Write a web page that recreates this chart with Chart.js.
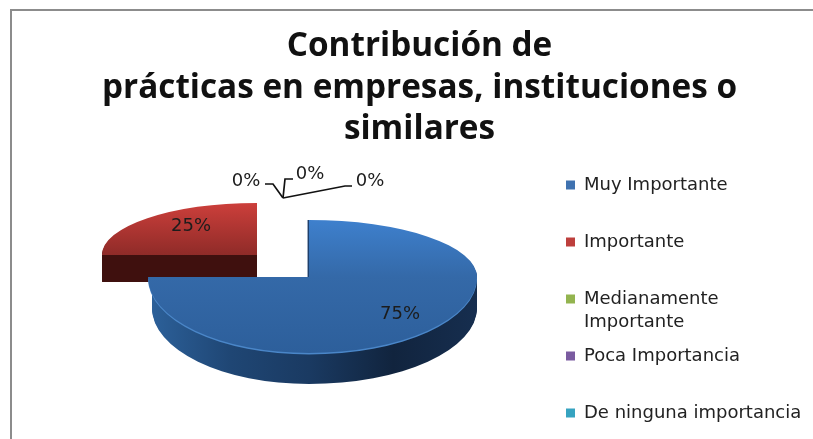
<!DOCTYPE html>
<html>
<head>
<meta charset="utf-8">
<style>
    html, body { margin: 0; background: #fff; overflow: hidden; }
    #wrap { position: relative; width: 813px; height: 439px; }
    #frame { position: absolute; left: 10px; top: 9px; right: -5px; bottom: -5px; border: 2px solid #8c8c8c; }
</style>
<script src="https://cdn.jsdelivr.net/npm/chart.js@4/dist/chart.umd.min.js"></script>
</head>
<body>
<div id="wrap">
    <div id="frame"></div>
    <canvas id="pieChart" width="813" height="439"></canvas>
</div>
<script>
"use strict";

const titleLines = ["Contribución de", "prácticas en empresas, instituciones o", "similares"];
const categories = ["Muy Importante", "Importante", ["Medianamente", "Importante"], "Poca Importancia", "De ninguna importancia"];
const percentages = [75, 25, 0, 0, 0];
const sliceColors = ["#3f72b0", "#bd3f3c", "#93b44f", "#7a5ba0", "#36a3c0"];

// where each drawn slice lands on the page, the pie is tilted so top and bottom radii differ
const slicePlacement = [
    {
        x: 309, y: 277, depth: 31, left: 161, right: 168, up: 57, down: 76, wallLeft: 157,
        top: ["#3e80cd", "#3469a8", "#2d5f9b"],
        wall: ["#2c6099", "#1f4674", "#1a3a62", "#11243e", "#162e4f"],
        rim: "#4a86c8",
        edge: "#1d3f6b"
    },
    {
        x: 257, y: 255, depth: 27, left: 155, right: 1, up: 52, down: 1, wallLeft: 155,
        top: ["#cc3f3b", "#8f2b28", "#8f2b28"],
        wall: ["#3f100e", "#3f100e"],
        rim: null,
        edge: null
    }
];

const labelPlaces = [
    { x: 400, y: 314 },
    { x: 191, y: 226 },
    { x: 246, y: 181 },
    { x: 310, y: 174 },
    { x: 370, y: 181 }
];

const leaderLines = [
    [[265, 184], [273, 184], [283, 198]],
    [[283, 198], [285, 179], [293, 179]],
    [[283, 198], [345, 186], [352, 186]]
];

const legendFontSize = 18;
const legendRowGap = 39;
const legendLineHeight = 23;
const legendBoxSize = 9;

function verticalGradient(ctx, el, colors) {
    let r = el.outerRadius;
    let g = ctx.createLinearGradient(0, el.y - r, 0, el.y + r);
    colors.forEach((c, i) => g.addColorStop(i / (colors.length - 1), c));
    return g;
}

function horizontalGradient(ctx, el, colors) {
    let r = el.outerRadius;
    let g = ctx.createLinearGradient(el.x - r, 0, el.x + r, 0);
    colors.forEach((c, i) => g.addColorStop(i / (colors.length - 1), c));
    return g;
}

// draws the arc element once per quadrant, each with its own squash
function drawSquashed(ctx, el, place, fill, dy, left) {
    let r = el.outerRadius;
    let baseOptions = el.options;
    let options = Object.create(baseOptions);
    options.backgroundColor = fill;
    options.borderWidth = 0;
    el.options = options;

    let quadrants = [
        [-1, -1, left, place.up],
        [1, -1, place.right, place.up],
        [-1, 1, left, place.down],
        [1, 1, place.right, place.down]
    ];
    quadrants.forEach((q) => {
        ctx.save();
        ctx.translate(place.x, place.y + dy);
        ctx.beginPath();
        ctx.rect(q[0] < 0 ? -q[2] - 4 : 0, q[1] < 0 ? -q[3] - 4 : 0, q[2] + 4, q[3] + 4);
        ctx.clip();
        ctx.scale(q[2] / r, q[3] / r);
        ctx.translate(-el.x, -el.y);
        el.draw(ctx);
        ctx.restore();
    });
    el.options = baseOptions;
}

const tiltedPie = {
    id: "tiltedPie",
    afterLayout(chart) {
        // the legend sits under the title line, not beside it
        let legend = chart.legend;
        legend.left = 566 - legendRowGap;
        legend.right = 813;
        legend.top = 185 - legendRowGap - legendFontSize / 2;
        legend.bottom = 640;
    },
    beforeDatasetsDraw(chart) {
        let ctx = chart.ctx;
        let arcs = chart.getDatasetMeta(0).data;

        // red goes first, the blue slice sits in front of it
        [1, 0].forEach((i) => {
            let el = arcs[i];
            let place = slicePlacement[i];
            let wall = horizontalGradient(ctx, el, place.wall);
            for (let dy = place.depth; dy >= 1; dy--) {
                drawSquashed(ctx, el, place, wall, dy, place.wallLeft);
            }
            if (place.edge) {
                // thin dark sliver on the cut at twelve o'clock
                ctx.save();
                ctx.beginPath();
                ctx.rect(place.x - 2, place.y - place.up, 2, place.up);
                ctx.clip();
                ctx.translate(-1.5, 0);
                drawSquashed(ctx, el, place, place.edge, 0, place.left);
                ctx.restore();
            }
            if (place.rim) {
                drawSquashed(ctx, el, place, place.rim, 1.5, place.left);
            }
            drawSquashed(ctx, el, place, verticalGradient(ctx, el, place.top), 0, place.left);
        });
        return false;
    },
    afterDraw(chart) {
        let ctx = chart.ctx;
        ctx.save();

        ctx.strokeStyle = "#111";
        ctx.lineWidth = 1.7;
        leaderLines.forEach((line) => {
            ctx.beginPath();
            line.forEach((p, i) => (i === 0 ? ctx.moveTo(p[0], p[1]) : ctx.lineTo(p[0], p[1])));
            ctx.stroke();
        });

        ctx.fillStyle = "#1c1c1c";
        ctx.font = "18px 'DejaVu Sans'";
        ctx.textAlign = "center";
        ctx.textBaseline = "middle";
        percentages.forEach((value, i) => {
            ctx.fillText(value + "%", labelPlaces[i].x, labelPlaces[i].y);
        });

        // the legend only wraps its own first line, second line of the third entry goes here
        let legend = chart.legend;
        let rowHeight = legendFontSize + legendRowGap;
        ctx.fillStyle = "#222";
        ctx.font = legendFontSize + "px 'DejaVu Sans'";
        ctx.textAlign = "left";
        ctx.fillText(
            categories[2][1],
            legend.left + legendRowGap + legendBoxSize + legendFontSize / 2,
            legend.top + legendRowGap + legendFontSize / 2 + rowHeight * 2 + legendLineHeight
        );
        ctx.restore();
    }
};

new Chart(document.getElementById("pieChart"), {
    type: "pie",
    data: {
        labels: categories,
        datasets: [{
            data: percentages,
            backgroundColor: sliceColors,
            borderWidth: 0
        }]
    },
    options: {
        responsive: false,
        animation: false,
        layout: { padding: { left: 26, right: 0, top: 0, bottom: 0 } },
        plugins: {
            tooltip: { enabled: false },
            title: {
                display: true,
                text: titleLines,
                color: "#111",
                font: { family: "Open Sans", size: 33.3, weight: "bold", lineHeight: 1.246 },
                padding: { top: 26, bottom: 8 }
            },
            legend: {
                position: "right",
                align: "start",
                labels: {
                    boxWidth: legendBoxSize,
                    boxHeight: legendBoxSize,
                    padding: legendRowGap,
                    color: "#222",
                    font: { family: "DejaVu Sans", size: legendFontSize },
                    generateLabels(chart) {
                        let items = Chart.overrides.pie.plugins.legend.labels.generateLabels(chart);
                        items.forEach((item) => {
                            if (Array.isArray(item.text)) {
                                item.text = item.text[0];
                            }
                        });
                        return items;
                    }
                }
            }
        }
    },
    plugins: [tiltedPie]
});
</script>
</body>
</html>
